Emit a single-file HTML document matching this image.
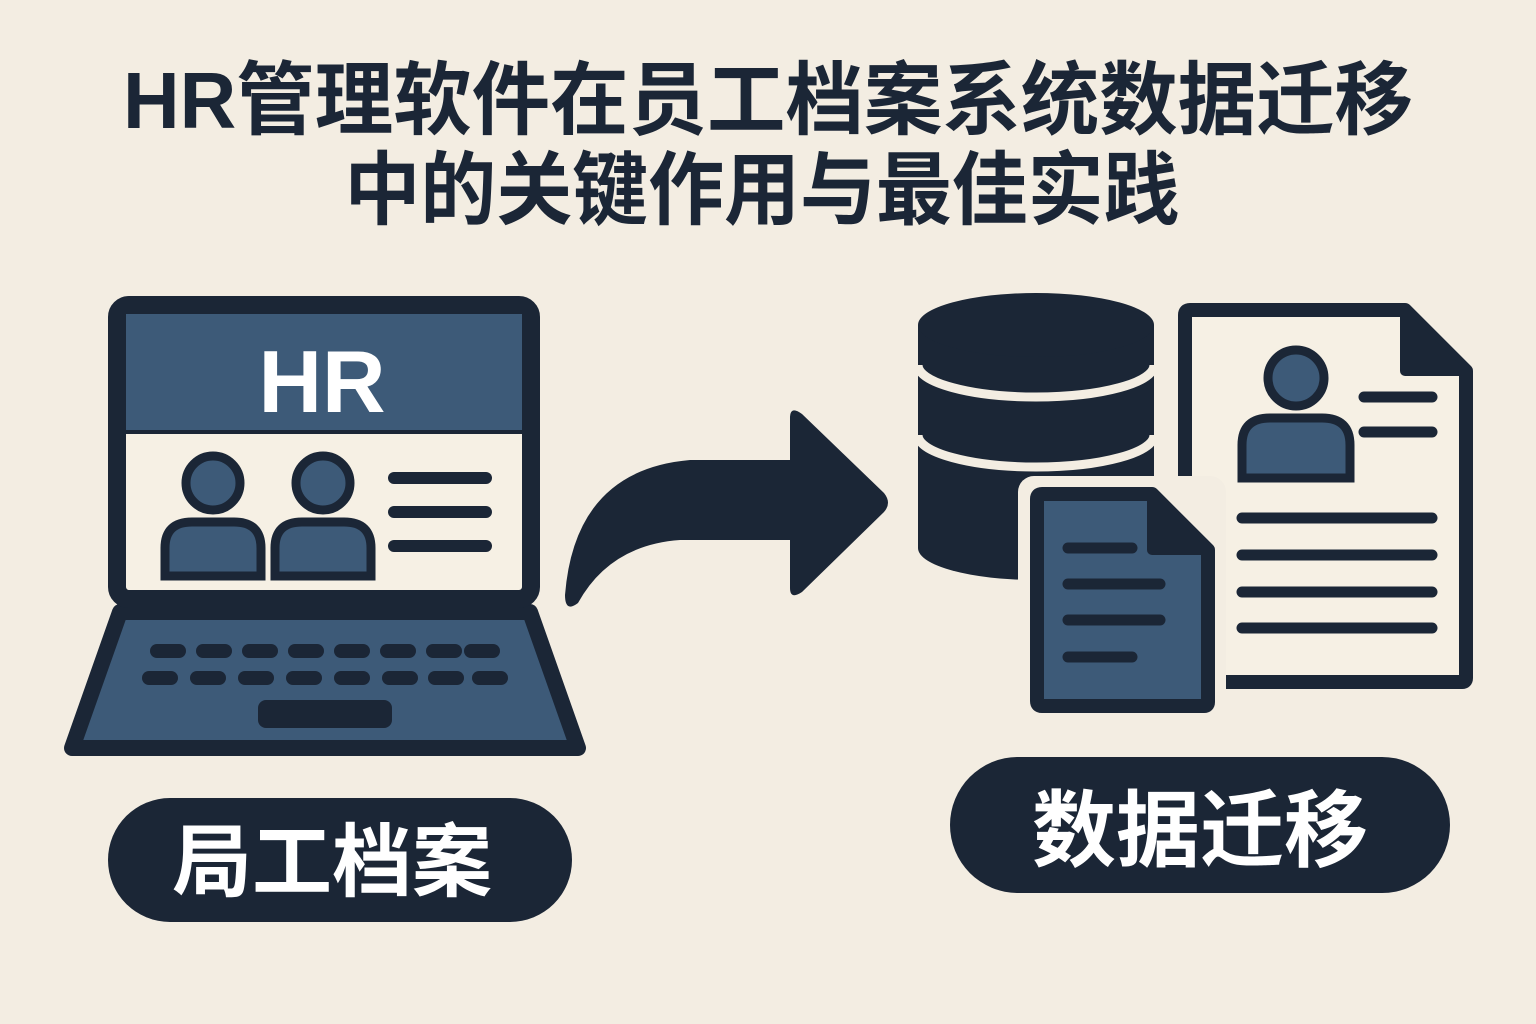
<!DOCTYPE html>
<html><head><meta charset="utf-8"><style>
html,body{margin:0;padding:0;background:#f3ede2;}
svg{display:block}
text{font-family:"Liberation Sans","Noto Sans CJK SC",sans-serif;font-weight:bold}
</style></head><body>
<svg width="1536" height="1024" viewBox="0 0 1536 1024" xmlns="http://www.w3.org/2000/svg">
<rect width="1536" height="1024" fill="#f3ede2"/>
<text x="768" y="128" font-size="80" fill="#1b2636" text-anchor="middle" textLength="1290" lengthAdjust="spacingAndGlyphs">HR管理软件在员工档案系统数据迁移</text>
<text x="762" y="218" font-size="80" fill="#1b2636" text-anchor="middle" textLength="835" lengthAdjust="spacingAndGlyphs">中的关键作用与最佳实践</text>

<!-- laptop -->
<polygon points="120,612 530,612 578,748 72,748" fill="#3d5a78" stroke="#1b2636" stroke-width="16" stroke-linejoin="round"/>
<rect x="117" y="305" width="414" height="294" rx="12" fill="#f6f0e4" stroke="#1b2636" stroke-width="18"/>
<rect x="126" y="314" width="396" height="118" fill="#3d5a78"/>
<line x1="126" y1="432" x2="522" y2="432" stroke="#1b2636" stroke-width="4"/>
<text x="322" y="412" font-size="88" fill="#fff" text-anchor="middle">HR</text>
<g fill="#3d5a78" stroke="#1b2636" stroke-width="9">
<circle cx="213" cy="483" r="27"/>
<path d="M165,576 L165,548 Q165,522 192,522 L234,522 Q261,522 261,548 L261,576 Z"/>
<circle cx="323" cy="483" r="27"/>
<path d="M275,576 L275,548 Q275,522 302,522 L344,522 Q371,522 371,548 L371,576 Z"/>
</g>
<g stroke="#1b2636" stroke-width="12" stroke-linecap="round">
<line x1="394" y1="478" x2="486" y2="478"/><line x1="394" y1="512" x2="486" y2="512"/><line x1="394" y1="546" x2="486" y2="546"/>
</g>
<g fill="#1b2636">
<rect x="150" y="644" width="36" height="14" rx="7"/><rect x="196" y="644" width="36" height="14" rx="7"/><rect x="242" y="644" width="36" height="14" rx="7"/><rect x="288" y="644" width="36" height="14" rx="7"/><rect x="334" y="644" width="36" height="14" rx="7"/><rect x="380" y="644" width="36" height="14" rx="7"/><rect x="426" y="644" width="36" height="14" rx="7"/><rect x="464" y="644" width="36" height="14" rx="7"/>
<rect x="142" y="671" width="36" height="14" rx="7"/><rect x="190" y="671" width="36" height="14" rx="7"/><rect x="238" y="671" width="36" height="14" rx="7"/><rect x="286" y="671" width="36" height="14" rx="7"/><rect x="334" y="671" width="36" height="14" rx="7"/><rect x="382" y="671" width="36" height="14" rx="7"/><rect x="428" y="671" width="36" height="14" rx="7"/><rect x="472" y="671" width="36" height="14" rx="7"/>
<rect x="258" y="700" width="134" height="28" rx="8"/>
</g>

<!-- arrow -->
<path d="M790,460 L790,418 Q790,405 802,414 L884,493 Q892,503 884,512 L802,592 Q790,600 790,588 L790,540 L680,540 Q610,545 578,603 Q565,613 565,595 Q575,470 690,460 Z" fill="#1b2636"/>

<!-- database -->
<path d="M918,325 L918,548 A118,32 0 0 0 1154,548 L1154,325 Z" fill="#1b2636"/>
<ellipse cx="1036" cy="325" rx="118" ry="32" fill="#1b2636"/>
<path d="M918,365 A118,32 0 0 0 1154,365" fill="none" stroke="#f3ede2" stroke-width="9"/>
<path d="M918,435 A118,32 0 0 0 1154,435" fill="none" stroke="#f3ede2" stroke-width="9"/>

<!-- big doc -->
<path d="M1190,310 L1405,310 L1466,371 L1466,678 Q1466,682 1462,682 L1190,682 Q1185,682 1185,677 L1185,315 Q1185,310 1190,310 Z" fill="#f6f0e4" stroke="#1b2636" stroke-width="14" stroke-linejoin="round"/>
<path d="M1405,310 L1405,371 L1466,371" fill="#1b2636" stroke="#1b2636" stroke-width="10" stroke-linejoin="round"/>
<g fill="#3d5a78" stroke="#1b2636" stroke-width="9">
<circle cx="1296" cy="378" r="28"/>
<path d="M1242,478 L1242,445 Q1242,418 1270,418 L1322,418 Q1350,418 1350,445 L1350,478 Z"/>
</g>
<g stroke="#1b2636" stroke-width="11" stroke-linecap="round">
<line x1="1364" y1="397" x2="1432" y2="397"/><line x1="1364" y1="432" x2="1432" y2="432"/>
<line x1="1242" y1="518" x2="1432" y2="518"/><line x1="1242" y1="555" x2="1432" y2="555"/><line x1="1242" y1="592" x2="1432" y2="592"/><line x1="1242" y1="628" x2="1432" y2="628"/>
</g>

<!-- small doc -->
<rect x="1018" y="476" width="208" height="248" rx="16" fill="#f3ede2"/>
<path d="M1042,494 L1152,494 L1208,550 L1208,702 Q1208,706 1204,706 L1042,706 Q1037,706 1037,701 L1037,499 Q1037,494 1042,494 Z" fill="#3d5a78" stroke="#1b2636" stroke-width="14" stroke-linejoin="round"/>
<path d="M1152,494 L1152,550 L1208,550" fill="#1b2636" stroke="#1b2636" stroke-width="10" stroke-linejoin="round"/>
<g stroke="#1b2636" stroke-width="11" stroke-linecap="round">
<line x1="1068" y1="548" x2="1132" y2="548"/><line x1="1068" y1="584" x2="1160" y2="584"/><line x1="1068" y1="620" x2="1160" y2="620"/><line x1="1068" y1="657" x2="1132" y2="657"/>
</g>

<!-- pills -->
<rect x="108" y="798" width="464" height="124" rx="62" fill="#1b2636"/>
<text x="332" y="890" font-size="80" fill="#fff" text-anchor="middle">局工档案</text>
<rect x="950" y="757" width="500" height="136" rx="68" fill="#1b2636"/>
<text x="1200" y="860" font-size="84" fill="#fff" text-anchor="middle">数据迁移</text>
</svg>
</body></html>
